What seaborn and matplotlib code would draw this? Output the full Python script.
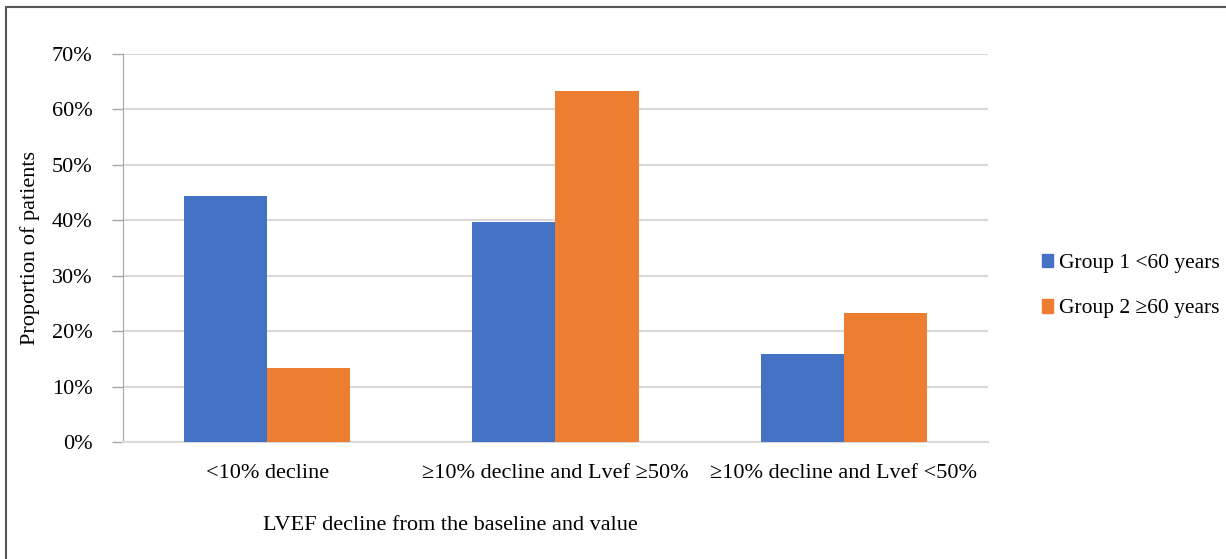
import matplotlib
matplotlib.use("Agg")
import matplotlib.pyplot as plt
import seaborn as sns
import pandas as pd
from matplotlib.lines import Line2D
from matplotlib.patches import Patch

categories = ["<10% decline", "≥10% decline and Lvef ≥50%", "≥10% decline and Lvef <50%"]
groups = ["Group 1 <60 years", "Group 2 ≥60 years"]
group1 = [44.4, 39.7, 15.9]
group2 = [13.3, 63.3, 23.3]
colors = ["#4472C4", "#ED7D31"]

df = pd.DataFrame({
    "category": categories * 2,
    "group": [groups[0]] * 3 + [groups[1]] * 3,
    "value": group1 + group2,
})

sns.set_style("white")
plt.rcParams["font.family"] = ["Liberation Serif", "DejaVu Serif"]
plt.rcParams["text.color"] = "black"
plt.rcParams["xtick.color"] = "black"
plt.rcParams["ytick.color"] = "black"
plt.rcParams["axes.labelcolor"] = "black"

fig = plt.figure(figsize=(12.26, 5.59), dpi=100)
ax = fig.add_axes([123 / 1226, 1 - 442 / 559, 865 / 1226, 388 / 559])

sns.barplot(data=df, x="category", y="value", hue="group", palette=colors,
            width=0.577, gap=0, saturation=1, ax=ax, legend=False, zorder=3,
            linewidth=0)

fs = 16
ax.set_ylim(0, 70)
ax.set_xlim(-0.5, 2.5)
ax.set_yticks(range(0, 71, 10))
ax.set_yticklabels([f"{v}%" for v in range(0, 71, 10)], fontsize=fs)
ax.tick_params(axis="x", labelsize=fs, length=0, pad=16, labelcolor="black")
ax.tick_params(axis="y", length=8, width=1, color="#A6A6A6", pad=14, left=True,
               labelcolor="black")
ax.grid(axis="y", color="#D9D9D9", linewidth=1.5, zorder=0)
for side in ["top", "right"]:
    ax.spines[side].set_visible(False)
ax.spines["left"].set_color("#A6A6A6")
ax.spines["bottom"].set_color("#D9D9D9")
ax.spines["bottom"].set_linewidth(1.5)
ax.set_xlabel("")
ax.set_ylabel("Proportion of patients", fontsize=fs)
ax.yaxis.set_label_coords(-83 / 865, 0.5)

fig.text(450 / 1226, 1 - 525 / 559, "LVEF decline from the baseline and value",
         fontsize=fs, ha="center", va="center")

handles = [Patch(facecolor=c, edgecolor=c) for c in colors]
fig.legend(handles, groups, loc="center left", bbox_to_anchor=(1023 / 1226, 1 - 286 / 559),
           frameon=False, fontsize=15.5, handlelength=0.5, handleheight=0.6,
           handletextpad=0.25, labelspacing=1.2)

# outer chart frame (top and left edges visible)
fig.add_artist(Line2D([6 / 1226, 6 / 1226], [0, 1 - 7 / 559], transform=fig.transFigure,
                      color="#555555", linewidth=1.5))
fig.add_artist(Line2D([6 / 1226, 1], [1 - 7 / 559, 1 - 7 / 559], transform=fig.transFigure,
                      color="#555555", linewidth=1.5))

fig.savefig("out.png", dpi=100)
